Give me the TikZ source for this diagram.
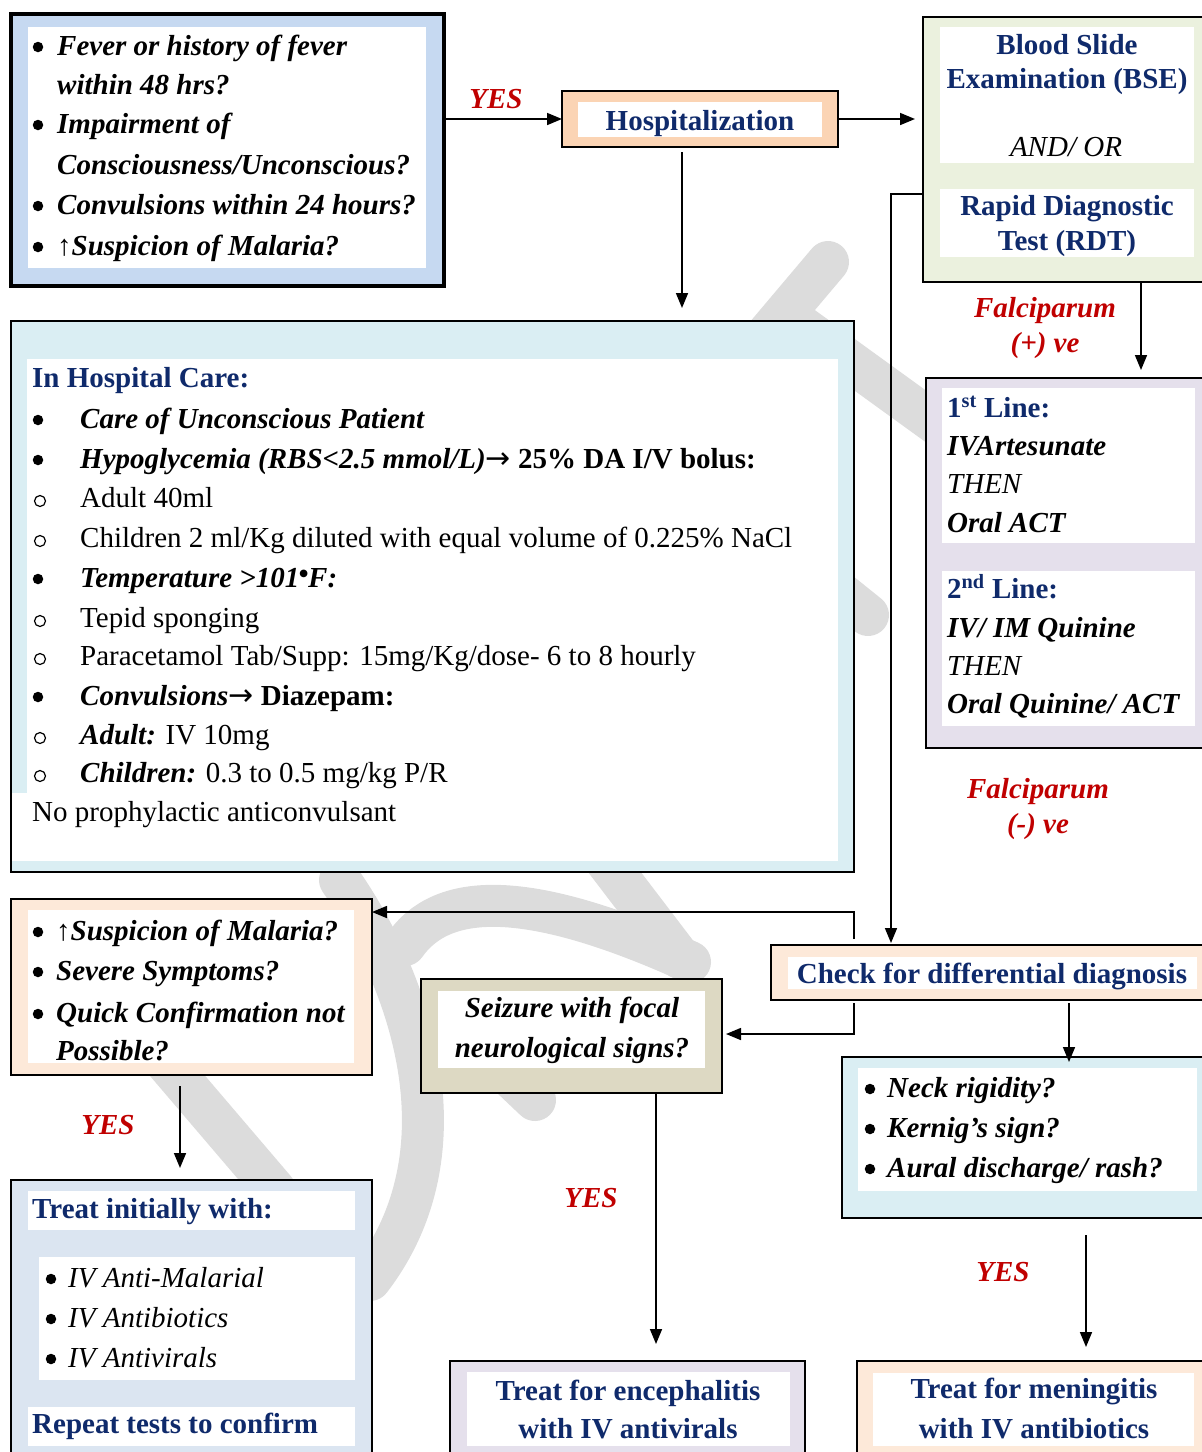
\documentclass[tikz,border=0pt]{standalone}
\usepackage{fontspec}
\setmainfont{Liberation Serif}
\newfontfamily\arrowface{DejaVu Sans}
\newfontfamily\dotface{DejaVu Sans}
\usetikzlibrary{arrows.meta}
\definecolor{navy}{HTML}{0F2A6B}
\definecolor{alert}{HTML}{C00000}
\definecolor{skyA}{HTML}{C6D9F1}
\definecolor{skyB}{HTML}{DAEEF3}
\definecolor{skyC}{HTML}{DBE5F1}
\definecolor{peachA}{HTML}{FBD4B4}
\definecolor{peachB}{HTML}{FDE9D9}
\definecolor{sage}{HTML}{EBF1DE}
\definecolor{lilac}{HTML}{E5E0EC}
\definecolor{khaki}{HTML}{DDD9C3}
\definecolor{wmgray}{HTML}{DCDCDC}
\newcommand\fsz{\fontsize{29}{35}\selectfont}
\newcommand\rarr{{\arrowface\mdseries\upshape\fontsize{30}{30}\selectfont →}}
\newcommand\degdot{\raisebox{11pt}{\dotface\mdseries\upshape\fontsize{10}{10}\selectfont ●}}
\begin{document}
\begin{tikzpicture}[x=1pt,y=-1pt,
  frame/.style={draw=black,line width=2.2pt,inner sep=0pt,outer sep=0pt,anchor=north west},
  pane/.style={fill=white,draw=none,inner sep=0pt,outer sep=0pt,anchor=north west},
  t/.style={anchor=base west,inner sep=0pt,font=\fsz},
  tb/.style={t,font=\fsz\bfseries},
  ti/.style={t,font=\fsz\itshape},
  tbi/.style={t,font=\fsz\bfseries\itshape},
  hd/.style={tb,text=navy},
  hdc/.style={hd,anchor=base},
  tbic/.style={tbi,anchor=base},
  tic/.style={ti,anchor=base},
  bul/.style={circle,fill=black,draw=none,inner sep=0pt,minimum size=10.5pt},
  obul/.style={circle,draw=black,line width=1.2pt,inner sep=0pt,minimum size=11pt},
  lbl/.style={anchor=base,inner sep=0pt,font=\fsz\bfseries\itshape,text=alert},
  conn/.style={line width=1.6pt,-{Triangle[length=15pt,width=12pt]}},
  wm/.style={line width=42pt,wmgray,line cap=round,line join=round}]
\useasboundingbox (0,0) rectangle (1202,1452);
\clip (0,0) rectangle (1202,1452);

% faint background watermark strokes
\draw[wm] (828,262) -- (752,352);
\draw[wm] (790,318) -- (1000,470);
\draw[wm] (700,480) -- (868,615);
\draw[wm] (100,985) -- (275,1190);
\draw[wm] (340,880) .. controls (410,980) and (470,1150) .. (370,1280);
\draw[wm] (405,945) .. controls (440,895) and (520,885) .. (690,962);
\draw[wm] (590,840) -- (680,958);
\draw[wm] (440,1010) -- (535,1100);

% ---------- boxes ----------
\node[frame,line width=4.5pt,fill=skyA,minimum width=433pt,minimum height=272pt] (q1) at (11,14) {};
\node[pane,minimum width=398pt,minimum height=241pt] (q1p) at (28,27) {};

\node[frame,fill=peachA,minimum width=276pt,minimum height=56pt] (hosp) at (562,91) {};
\node[pane,minimum width=244pt,minimum height=35pt] (hospp) at (578,102) {};

\node[frame,fill=sage,minimum width=292pt,minimum height=265pt] (bse) at (923,17) {};
\node[pane,minimum width=254pt,minimum height=136pt] (bsep1) at (940,27) {};
\node[pane,minimum width=254pt,minimum height=68pt] (bsep2) at (940,189) {};

\node[frame,fill=lilac,minimum width=289pt,minimum height=370pt] (drug) at (926,378) {};
\node[pane,minimum width=253pt,minimum height=155pt] (drugp1) at (942,388) {};
\node[pane,minimum width=253pt,minimum height=155pt] (drugp2) at (942,571) {};

\node[frame,fill=skyB,minimum width=843pt,minimum height=551pt] (care) at (11,321) {};
\node[pane,minimum width=811pt,minimum height=434pt] (carep1) at (27,359) {};
\node[pane,minimum width=826pt,minimum height=68pt] (carep2) at (12,793) {};

\node[frame,fill=peachB,minimum width=361pt,minimum height=176pt] (susp) at (11,899) {};
\node[pane,minimum width=326pt,minimum height=153pt] (suspp) at (28,910) {};

\node[frame,fill=khaki,minimum width=301pt,minimum height=114pt] (seiz) at (421,979) {};
\node[pane,minimum width=267pt,minimum height=77pt] (seizp) at (438,991) {};

\node[frame,fill=peachB,minimum width=444pt,minimum height=55pt] (check) at (771,945) {};
\node[pane,minimum width=409pt,minimum height=32pt] (checkp) at (788,957) {};

\node[frame,fill=skyB,minimum width=373pt,minimum height=161pt] (neck) at (842,1057) {};
\node[pane,minimum width=339pt,minimum height=123pt] (neckp) at (858,1068) {};

\node[frame,fill=skyC,minimum width=361pt,minimum height=290pt] (treat) at (11,1180) {};
\node[pane,minimum width=327pt,minimum height=39pt] (treatp1) at (28,1191) {};
\node[pane,minimum width=316pt,minimum height=123pt] (treatp2) at (39,1257) {};
\node[pane,minimum width=327pt,minimum height=39pt] (treatp3) at (28,1407) {};

\node[frame,fill=lilac,minimum width=355pt,minimum height=110pt] (enc) at (450,1361) {};
\node[pane,minimum width=323pt,minimum height=74pt] (encp) at (467,1372) {};

\node[frame,fill=peachB,minimum width=358pt,minimum height=110pt] (men) at (857,1361) {};
\node[pane,minimum width=321pt,minimum height=73pt] (menp) at (873,1373) {};

% ---------- texts ----------
\node[bul] (q1d1) at (38,47) {};
\node[tbi] (q1t1) at (57,55) {Fever or history of fever};
\node[tbi] (q1t2) at (57,94) {within 48 hrs?};
\node[bul] (q1d2) at (38,125) {};
\node[tbi] (q1t3) at (57,133) {Impairment of};
\node[tbi] (q1t4) at (57,174) {Consciousness/Unconscious?};
\node[bul] (q1d3) at (38,206) {};
\node[tbi] (q1t5) at (57,214) {Convulsions within 24 hours?};
\node[bul] (q1d4) at (38,247) {};
\node[tbi] (q1t6) at (57,255) {↑Suspicion of Malaria?};

\node[hdc] (hospt) at (700,130) {Hospitalization};

\node[hdc] (bset1) at (1067,54) {Blood Slide};
\node[hdc] (bset2) at (1067,88) {Examination (BSE)};
\node[tic] (bset3) at (1066,156) {AND/ OR};
\node[hdc] (bset4) at (1067,215) {Rapid Diagnostic};
\node[hdc] (bset5) at (1067,250) {Test (RDT)};

\node[hd]  (drugt1) at (947,417) {1\textsuperscript{st} Line:};
\node[tbi] (drugt2) at (947,455) {IVArtesunate};
\node[ti]  (drugt3) at (947,493) {THEN};
\node[tbi] (drugt4) at (947,532) {Oral ACT};
\node[hd]  (drugt5) at (947,598) {2\textsuperscript{nd} Line:};
\node[tbi] (drugt6) at (947,637) {IV/ IM Quinine};
\node[ti]  (drugt7) at (947,675) {THEN};
\node[tbi] (drugt8) at (947,713) {Oral Quinine/ ACT};

\node[hd]  (caret0) at (32,387) {In Hospital Care:};
\node[bul] (cared1) at (38,420) {};
\node[tbi] (caret1) at (80,428) {Care of Unconscious Patient};
\node[bul] (cared2) at (38,460) {};
\node[tb]  (caret2) at (80,468) {\itshape Hypoglycemia (RBS<2.5 mmol/L)\rarr{} \upshape 25\% DA I/V bolus:};
\node[obul] (cared3) at (40,501) {};
\node[t]   (caret3) at (80,507) {Adult 40ml};
\node[obul] (cared4) at (40,541) {};
\node[t]   (caret4) at (80,547) {Children 2 ml/Kg diluted with equal volume of 0.225\% NaCl};
\node[bul] (cared5) at (38,579) {};
\node[tbi] (caret5) at (80,587) {Temperature >101\degdot F:};
\node[obul] (cared6) at (40,621) {};
\node[t]   (caret6) at (80,627) {Tepid sponging};
\node[obul] (cared7) at (40,659) {};
\node[t]   (caret7) at (80,665) {Paracetamol Tab/Supp: 15mg/Kg/dose- 6 to 8 hourly};
\node[bul] (cared8) at (38,697) {};
\node[tb]  (caret8) at (80,705) {\itshape Convulsions\rarr{} \upshape Diazepam:};
\node[obul] (cared9) at (40,738) {};
\node[t]   (caret9) at (80,744) {\bfseries\itshape Adult:\mdseries\upshape{} IV 10mg};
\node[obul] (cared10) at (40,776) {};
\node[t]   (caret10) at (80,782) {\bfseries\itshape Children:\mdseries\upshape{} 0.3 to 0.5 mg/kg P/R};
\node[t]   (caret11) at (32,821) {No prophylactic anticonvulsant};

\node[bul] (suspd1) at (38,932) {};
\node[tbi] (suspt1) at (56,940) {↑Suspicion of Malaria?};
\node[bul] (suspd2) at (38,972) {};
\node[tbi] (suspt2) at (56,980) {Severe Symptoms?};
\node[bul] (suspd3) at (38,1014) {};
\node[tbi] (suspt3) at (56,1022) {Quick Confirmation not};
\node[tbi] (suspt4) at (56,1060) {Possible?};

\node[tbic] (seizt1) at (572,1017) {Seizure with focal};
\node[tbic] (seizt2) at (572,1057) {neurological signs?};

\node[hdc] (checkt) at (992,983) {Check for differential diagnosis};

\node[bul] (neckd1) at (870,1089) {};
\node[tbi] (neckt1) at (887,1097) {Neck rigidity?};
\node[bul] (neckd2) at (870,1129) {};
\node[tbi] (neckt2) at (887,1137) {Kernig’s sign?};
\node[bul] (neckd3) at (870,1169) {};
\node[tbi] (neckt3) at (887,1177) {Aural discharge/ rash?};

\node[hd]  (treatt1) at (32,1218) {Treat initially with:};
\node[bul] (treatd1) at (51,1279) {};
\node[ti]  (treatt2) at (68,1287) {IV Anti-Malarial};
\node[bul] (treatd2) at (51,1319) {};
\node[ti]  (treatt3) at (68,1327) {IV Antibiotics};
\node[bul] (treatd3) at (51,1359) {};
\node[ti]  (treatt4) at (68,1367) {IV Antivirals};
\node[hd]  (treatt5) at (32,1433) {Repeat tests to confirm};

\node[hdc] (enct1) at (628,1400) {Treat for encephalitis};
\node[hdc] (enct2) at (628,1438) {with IV antivirals};

\node[hdc] (ment1) at (1034,1398) {Treat for meningitis};
\node[hdc] (ment2) at (1034,1438) {with IV antibiotics};

% ---------- branch labels ----------
\node[lbl] (yes1) at (496,108) {YES};
\node[lbl] (pos1) at (1045,317) {Falciparum};
\node[lbl] (pos2) at (1045,352) {(+) ve};
\node[lbl] (neg1) at (1038,798) {Falciparum};
\node[lbl] (neg2) at (1038,833) {(-) ve};
\node[lbl] (yes2) at (108,1134) {YES};
\node[lbl] (yes3) at (591,1207) {YES};
\node[lbl] (yes4) at (1003,1281) {YES};

% ---------- connectors ----------
\coordinate (h1) at (682,152);
\coordinate (b1) at (891,194);
\coordinate (b2) at (1141,282);
\coordinate (k1) at (854,912);
\coordinate (k2) at (854,1034);
\coordinate (k3) at (1069,1003);
\coordinate (s1) at (180,1086);
\coordinate (z1) at (656,1093);
\coordinate (n1) at (1086,1235);

\draw[conn] (q1.east |- hosp.west) -- (hosp.west);
\draw[conn,shorten >=8pt] (hosp.east) -- (hosp.east -| bse.west);
\draw[conn,shorten >=13pt] (h1) -- (h1 |- care.north);
\draw[conn,shorten >=8pt] (b2) -- (b2 |- drug.north);
\draw[conn,shorten >=2pt] (b1 -| bse.west) -- (b1) -- (b1 |- check.north);
\draw[conn,shorten <=6pt] (k1 |- check.north) -- (k1) -- (k1 -| susp.east);
\draw[conn,shorten <=3pt,shorten >=4pt] (k2 |- check.south) -- (k2) -- (k2 -| seiz.east);
\draw[conn,shorten >=-5pt] (k3) -- (k3 |- neck.north);
\draw[conn,shorten >=12pt] (s1) -- (s1 |- treat.north);
\draw[conn,shorten >=17pt] (z1) -- (z1 |- enc.north);
\draw[conn,shorten >=14pt] (n1) -- (n1 |- men.north);
\end{tikzpicture}
\end{document}
